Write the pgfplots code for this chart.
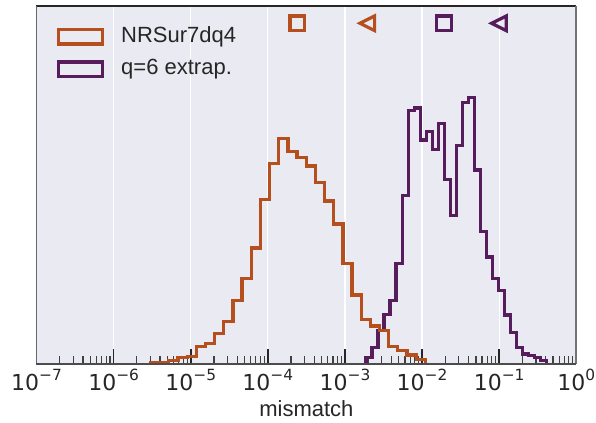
\documentclass[border=0pt]{standalone}
\usepackage{pgfplots}
\pgfplotsset{compat=1.18}
\usepackage{fontspec}
\setmainfont{Liberation Sans}
\newfontfamily\dejavu{DejaVu Sans}
\definecolor{orng}{HTML}{B5501E}
\definecolor{purp}{HTML}{561C5C}
\definecolor{bgc}{HTML}{EAEAF2}
\definecolor{txt}{HTML}{262626}
\pgfdeclareplotmark{tril}{%
 \pgfpathmoveto{\pgfqpoint{-\pgfplotmarksize}{0pt}}%
 \pgfpathlineto{\pgfqpoint{\pgfplotmarksize}{-\pgfplotmarksize}}%
 \pgfpathlineto{\pgfqpoint{\pgfplotmarksize}{\pgfplotmarksize}}%
 \pgfpathclose\pgfusepathqstroke}
\newcommand{\tl}[1]{{\dejavu\fontsize{16.5}{18}\selectfont 10\raisebox{7.3pt}{\fontsize{11.55}{12}\selectfont #1}}}
\begin{document}
\begin{tikzpicture}
\useasboundingbox (0,0) rectangle (447pt,316.5pt);
\begin{axis}[
  at={(27.375pt,43.875pt)}, anchor=south west,
  scale only axis, width=404.85pt, height=268.125pt,
  xmode=log, xmin=1e-7, xmax=1, ymin=0, ymax=357.5,
  axis background/.style={fill=bgc},
  axis line style={draw=none},
  ytick=\empty,
  xtick={1e-7,1e-6,1e-5,1e-4,1e-3,1e-2,1e-1,1},
  xticklabels={\tl{−7},\tl{−6},\tl{−5},\tl{−4},\tl{−3},\tl{−2},\tl{−1},\tl{0}},
  xtick pos=bottom, tick align=inside,
  major tick length=11.25pt, minor tick length=6pt,
  every major tick/.append style={line width=1.2pt, color=black!85},
  every minor tick/.append style={line width=0.9pt, color=black!75},
  xmajorgrids, grid style={white, line width=0.9pt},
  xticklabel style={anchor=base, yshift=-19.9pt, text=txt},
  xlabel={mismatch},
  xlabel style={font=\fontsize{16.5}{18}\selectfont, text=txt, anchor=base, at={(axis description cs:0.5,-0.147)}},
  legend style={at={(axis description cs:0.0368,0.944)}, anchor=north west, draw=none, fill=none, inner sep=0pt, row sep=9pt,
     font=\fontsize{16.5}{18}\selectfont, text=txt, nodes={inner sep=0pt, text height=12pt, text depth=3.5pt}},
  legend cell align=left,
  after end axis/.code={
    \draw[black!85, line width=1pt] (rel axis cs:0,1) -- (rel axis cs:1,1);
    \draw[black!60, line width=1.2pt] (rel axis cs:0,0) -- (rel axis cs:0,1);
    \draw[black!55, line width=1.5pt] (rel axis cs:1,0) -- (rel axis cs:1,1);
    \draw[black!70, line width=1.5pt] (rel axis cs:0,0) -- (rel axis cs:1,0);
  },
]
\addlegendimage{legend image code/.code={\draw[orng, line width=2.5pt] (0pt,-5.5pt) rectangle (33pt,5.5pt); \path (47pt,0pt);}}
\addlegendentry{NRSur7dq4}
\addlegendimage{legend image code/.code={\draw[purp, line width=2.5pt] (0pt,-5.5pt) rectangle (33pt,5.5pt); \path (47pt,0pt);}}
\addlegendentry{q=6 extrap.}

\addplot[forget plot, const plot, purp, line width=2.4pt, line join=miter] coordinates {
(1.8737e-3,0)(1.8737e-3,5.8)(2.24284e-3,15.8)(2.6847e-3,32.8)(3.21361e-3,49.2)(3.84672e-3,62.8)
(4.60457e-3,99.8)(5.51172e-3,168.2)(6.59759e-3,252.8)(7.89737e-3,255.5)(9.45323e-3,223.5)
(1.13156e-2,231.8)(1.35449e-2,213.8)(1.62134e-2,240.2)(1.94076e-2,184.2)(2.32311e-2,147.8)
(2.78079e-2,217.8)(3.32863e-2,260.8)(3.98440e-2,265.8)(4.76937e-2,193.5)(5.70898e-2,131.8)
(6.83371e-2,106.5)(8.18002e-2,84.8)(9.79157e-2,72.8)(1.172061e-1,48.5)(1.402969e-1,31.2)
(1.679368e-1,15.8)(2.010220e-1,9.5)(2.406245e-1,8.2)(2.880299e-1,5.8)(3.447747e-1,2.8)
(4.126987e-1,2.8)(4.126987e-1,0)};

\addplot[forget plot, const plot, orng, line width=2.4pt, line join=miter] coordinates {
(3.004e-6,0)(3.004e-6,1.0)(3.950e-6,1.0)(5.193e-6,3.0)(6.827e-6,5.8)(8.976e-6,6.8)
(1.1801e-5,16.8)(1.5516e-5,20.2)(2.0400e-5,30.2)(2.6821e-5,42.2)(3.5263e-5,63.2)
(4.6362e-5,85.2)(6.0955e-5,115.5)(8.0141e-5,164.2)(1.05366e-4,200.2)(1.38531e-4,225.2)
(1.82135e-4,211.8)(2.39464e-4,205.8)(3.14838e-4,197.5)(4.13937e-4,180.8)(5.44227e-4,162.5)
(7.15527e-4,139.5)(9.40744e-4,100.2)(1.23685e-3,68.5)(1.62616e-3,44.2)(2.1380e-3,37.5)
(2.81096e-3,32.8)(3.69573e-3,16.8)(4.8590e-3,12.8)(6.38842e-3,8.5)(8.3992e-3,4.2)
(1.10429e-2,4.2)(1.10429e-2,0)};

\addplot[forget plot, only marks, mark=square, mark size=5.5pt, orng, mark options={line width=2.4pt, fill=none}] coordinates {(2.408e-4,340.2)};
\addplot[forget plot, only marks, mark=tril, mark size=5.5pt, orng, mark options={line width=2.4pt, fill=none}] coordinates {(1.948e-3,340.2)};
\addplot[forget plot, only marks, mark=square, mark size=5.5pt, purp, mark options={line width=2.4pt, fill=none}] coordinates {(1.923e-2,340.2)};
\addplot[forget plot, only marks, mark=tril, mark size=5.5pt, purp, mark options={line width=2.4pt, fill=none}] coordinates {(9.93e-2,340.2)};
\end{axis}
\end{tikzpicture}
\end{document}
